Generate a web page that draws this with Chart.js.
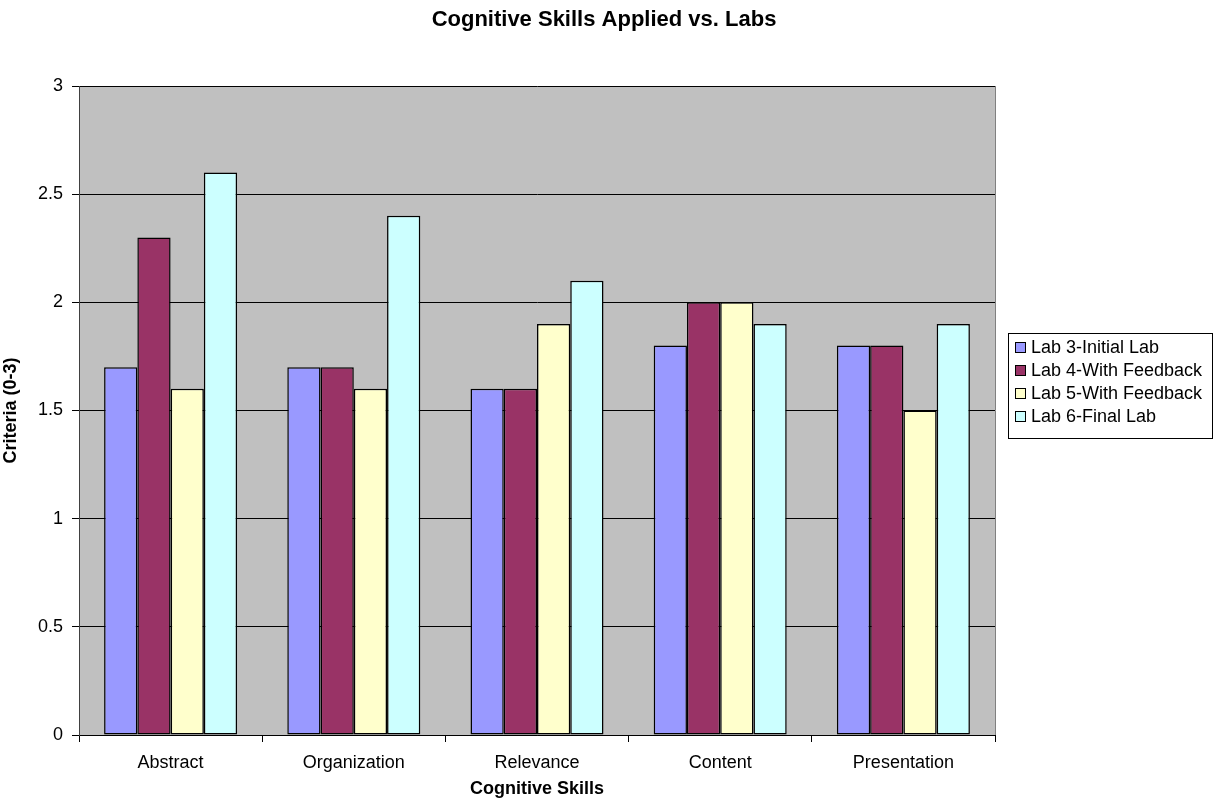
<!DOCTYPE html>
<html>
<head>
<meta charset="utf-8">
<script src="https://cdn.jsdelivr.net/npm/chart.js@4/dist/chart.umd.min.js"></script>
<style>
  html, body { margin: 0; padding: 0; background: #fff; }
  #wrap { width: 1219px; height: 803px; }
</style>
</head>
<body>
<div id="wrap"><canvas id="myChart" width="1219" height="803"></canvas></div>
<script>
// chart data
var categories = ['Abstract', 'Organization', 'Relevance', 'Content', 'Presentation'];
var seriesNames = ['Lab 3-Initial Lab', 'Lab 4-With Feedback', 'Lab 5-With Feedback', 'Lab 6-Final Lab'];
var lab3 = [1.7, 1.7, 1.6, 1.8, 1.8];
var lab4 = [2.3, 1.7, 1.6, 2.0, 1.8];
var lab5 = [1.6, 1.6, 1.9, 2.0, 1.5];
var lab6 = [2.6, 2.4, 2.1, 1.9, 1.9];
var yTicks = [0, 0.5, 1, 1.5, 2, 2.5, 3];
var chartTitle = 'Cognitive Skills Applied vs. Labs';

var colors = ['#9999FF', '#993366', '#FFFFCC', '#CCFFFF'];
var FONT = '"Liberation Sans", Arial, sans-serif';

var ctx = document.getElementById("myChart").getContext("2d");

// gray plot background + border, title centred on the whole page, boxed legend
var plotStyle = {
  id: 'plotStyle',
  beforeDraw: function(chart) {
    var a = chart.chartArea, c = chart.ctx;
    c.save();
    c.fillStyle = '#fff';
    c.fillRect(0, 0, chart.width, chart.height);
    c.fillStyle = '#C0C0C0';
    c.fillRect(a.left, a.top, a.right - a.left, a.bottom - a.top);
    c.restore();
  },
  afterDraw: function(chart) {
    var a = chart.chartArea, c = chart.ctx;
    c.save();
    c.strokeStyle = '#808080';
    c.lineWidth = 1;
    c.beginPath();
    c.moveTo(a.right + 0.5, a.top);
    c.lineTo(a.right + 0.5, a.bottom);
    c.stroke();

    // title
    c.fillStyle = '#000';
    c.font = 'bold 22px ' + FONT;
    c.textAlign = 'center';
    c.textBaseline = 'middle';
    c.fillText(chartTitle, 604, 20);

    // legend
    var lx = 1008, ly = 333, lw = 204, lh = 105;
    c.textAlign = 'left';
    c.strokeStyle = '#000';
    c.strokeRect(lx + 0.5, ly + 0.5, lw, lh);
    c.font = '18px ' + FONT;
    chart.data.datasets.forEach(function(ds, i) {
      var cy = ly + 14 + i * 23;
      c.fillStyle = ds.backgroundColor;
      c.fillRect(lx + 7, cy - 5, 11, 11);
      c.strokeStyle = '#000';
      c.lineWidth = 1;
      c.strokeRect(lx + 7.5, cy - 4.5, 10, 10);
      c.fillStyle = '#000';
      c.fillText(ds.label, lx + 23, cy + 1);
    });
    c.restore();
  }
};

var data_ = {
  labels: categories,
  datasets: [lab3, lab4, lab5, lab6].map(function(vals, i) {
    return {
      label: seriesNames[i],
      data: vals,
      backgroundColor: colors[i],
      borderColor: '#000',
      borderWidth: 1.5,
      borderSkipped: false
    };
  })
};

var myChart = new Chart(ctx, {
  type: 'bar',
  data: data_,
  plugins: [plotStyle],
  options: {
    responsive: false,
    animation: false,
    layout: { padding: { left: 0, right: 224, top: 86, bottom: 0 } },
    datasets: { bar: { categoryPercentage: 0.726, barPercentage: 1.0 } },
    plugins: {
      legend: { display: false },
      tooltip: { enabled: false },
      title: { display: false }
    },
    scales: {
      x: {
        grid: { offset: true, drawOnChartArea: false, drawTicks: true, tickLength: 7, color: '#000' },
        border: { color: '#000', width: 1 },
        ticks: { color: '#000', font: { family: FONT, size: 18 }, padding: 10, maxRotation: 0 },
        title: {
          display: true,
          text: 'Cognitive Skills',
          color: '#000',
          font: { family: FONT, size: 18, weight: 'bold' },
          padding: { top: 0, bottom: 3 }
        },
        afterFit: function(scale) { scale.height = 68; }
      },
      y: {
        min: 0,
        max: 3,
        afterBuildTicks: function(scale) {
          scale.ticks = yTicks.map(function(v) { return { value: v }; });
        },
        grid: { color: '#000', tickLength: 7, lineWidth: 1 },
        border: { color: '#404040', width: 1 },
        ticks: {
          color: '#000',
          font: { family: FONT, size: 18 },
          padding: 9,
          callback: function(v) { return String(v); }
        },
        title: {
          display: true,
          text: 'Criteria (0-3)',
          color: '#000',
          font: { family: FONT, size: 18, weight: 'bold' },
          padding: { top: 0, bottom: 0, left: 9 }
        },
        afterFit: function(scale) { scale.width = 79; }
      }
    }
  }
});
</script>
</body>
</html>
